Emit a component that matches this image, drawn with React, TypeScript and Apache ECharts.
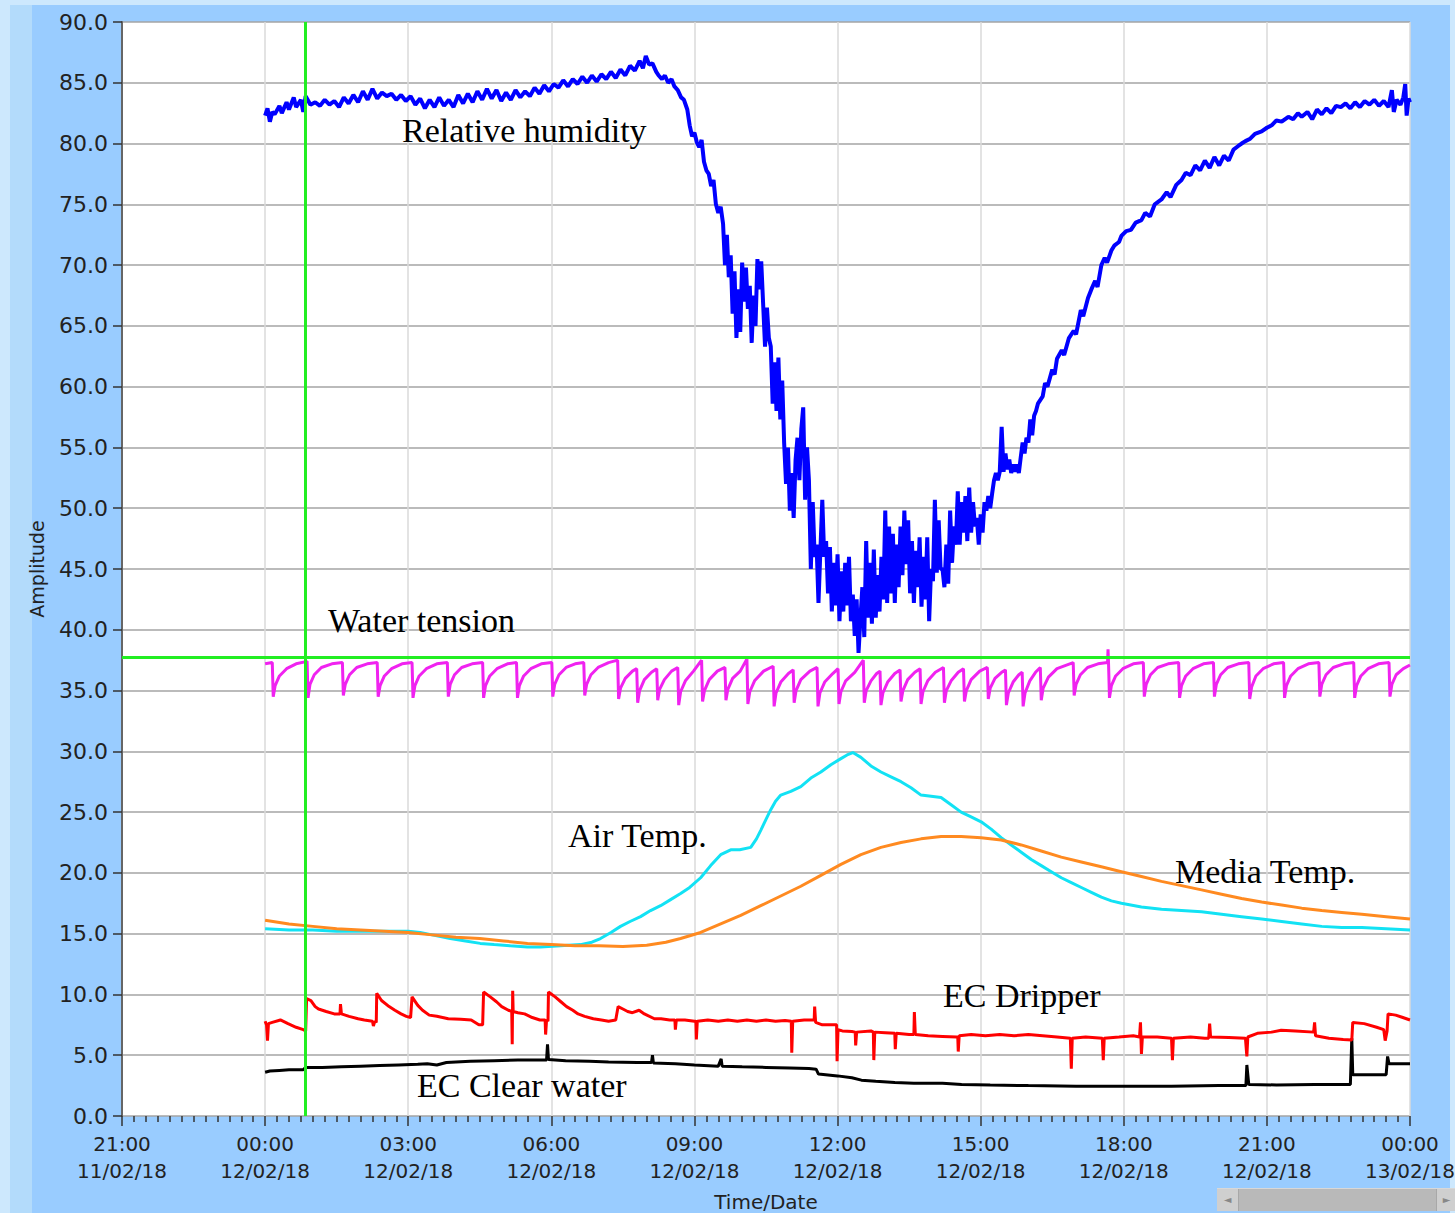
import React, { useEffect, useRef } from "react";
import * as echarts from "echarts";

// Hours since 00:00 12/02/18
const xMin = -3;
const xMax = 24;
const xStep = 3;
const yMin = 0;
const yMax = 90;
const yStep = 5;

const cursorTime = 0.84;
const cursorLevel = 37.7;

const humidity: [number, number][] = [
  [0.0,82.3],[0.05,82.9],[0.1,81.8],[0.15,82.6],[0.2,82.4],[0.3,83.1],[0.35,82.5],[0.45,83.4],[0.5,82.8],[0.6,83.8],[0.65,83.0],[0.75,83.6],[0.8,82.6],[0.85,83.9],[0.95,83.2],[1.05,83.4],[1.15,83.1],[1.25,83.6],[1.35,83.2],[1.45,83.5],[1.55,83.0],[1.65,83.8],[1.75,83.3],[1.85,84.0],[1.95,83.4],[2.05,84.3],[2.15,83.6],[2.25,84.5],[2.35,83.7],[2.45,84.2],[2.55,83.9],[2.65,84.1],[2.75,83.6],[2.85,84.0],[2.95,83.5],[3.05,83.9],[3.15,83.2],[3.25,83.7],[3.35,82.9],[3.45,83.6],[3.55,83.0],[3.65,83.8],[3.75,83.1],[3.85,83.6],[3.95,83.0],[4.05,84.0],[4.15,83.3],[4.25,84.1],[4.35,83.4],[4.45,84.3],[4.55,83.6],[4.65,84.5],[4.75,83.7],[4.85,84.4],[4.95,83.5],[5.05,84.2],[5.15,83.6],[5.25,84.4],[5.35,83.8],[5.45,84.3],[5.55,83.9],[5.65,84.6],[5.75,84.1],[5.85,84.8],[5.95,84.3],[6.05,84.9],[6.15,84.6],[6.25,85.2],[6.35,84.7],[6.45,85.3],[6.55,84.9],[6.65,85.5],[6.75,85.0],[6.85,85.6],[6.95,85.1],[7.05,85.7],[7.15,85.3],[7.25,85.9],[7.35,85.4],[7.45,86.1],[7.55,85.6],[7.65,86.4],[7.75,86.0],[7.85,86.8],[7.92,86.2],[7.98,87.2],[8.05,86.5],[8.12,86.6],[8.2,85.9],
  [8.25,85.6],[8.32,85.3],[8.38,85.6],[8.45,85.0],[8.52,85.3],[8.58,84.7],[8.65,84.4],[8.72,83.8],[8.78,83.6],[8.85,82.8],[8.9,81.5],[8.95,80.6],[9.0,80.9],[9.05,80.1],[9.1,79.7],[9.15,80.3],[9.2,78.5],[9.25,77.8],[9.3,77.5],[9.35,76.5],[9.4,77.0],[9.45,75.0],[9.5,74.3],[9.55,74.8],
  [9.6,73.4],[9.64,70.0],[9.68,72.5],[9.72,69.0],[9.76,70.8],[9.8,66.0],[9.84,69.5],[9.88,64.0],[9.92,68.0],[9.96,64.5],[10.0,70.2],[10.04,67.0],[10.08,69.8],[10.12,66.4],[10.16,68.3],[10.2,63.6],[10.24,67.5],[10.28,65.0],[10.32,70.5],[10.36,68.0],[10.4,70.3],[10.44,66.8],[10.48,63.3],[10.52,66.5],[10.56,64.0],[10.6,63.3],[10.64,58.6],[10.68,62.0],[10.72,58.0],[10.76,62.4],[10.8,57.3],[10.84,60.5],[10.88,55.4],[10.92,52.0],[10.96,55.0],[11.0,49.8],[11.04,52.9],[11.08,49.2],[11.12,54.0],[11.16,55.8],[11.2,52.3],[11.24,56.5],[11.28,58.3],[11.32,50.7],[11.36,55.0],[11.4,52.3],[11.44,45.0],[11.48,50.5],[11.52,46.0],[11.56,47.0],[11.6,42.2],[11.64,46.5],[11.68,50.7],[11.72,46.0],[11.76,47.3],[11.8,43.0],[11.84,46.8],[11.88,41.5],[11.92,45.5],[11.96,42.0],[12.0,46.2],[12.04,40.7],[12.08,44.8],[12.12,41.5],[12.16,45.5],[12.2,42.0],[12.24,46.0],[12.28,40.7],[12.32,42.9],[12.36,39.5],[12.4,42.5],[12.44,38.1],[12.48,41.0],[12.52,43.5],[12.56,39.4],[12.6,47.3],[12.64,41.0],[12.68,45.5],[12.72,40.5],[12.76,46.6],[12.8,41.0],[12.84,44.5],[12.88,41.5],[12.92,46.0],[12.96,42.5],[13.0,49.8],[13.04,42.2],[13.08,48.5],[13.12,43.0],[13.16,47.9],[13.2,42.2],[13.24,47.0],[13.28,43.5],[13.32,48.5],[13.36,44.5],[13.4,49.8],[13.44,45.4],[13.48,49.0],[13.52,43.0],[13.56,47.3],[13.6,42.2],[13.64,46.5],[13.68,43.5],[13.72,47.6],[13.76,41.9],[13.8,46.0],[13.84,42.5],[13.88,47.6],[13.92,40.7],[13.96,45.0],[14.0,44.0],[14.04,50.7],[14.08,44.7],[14.12,49.0],[14.16,45.0],[14.2,45.0],[14.24,43.5],[14.28,47.0],[14.32,43.8],[14.36,49.8],[14.4,45.5],[14.44,48.5],[14.48,47.0],[14.52,51.4],[14.56,47.0],[14.6,50.5],[14.64,48.0],[14.68,51.0],[14.72,47.3],[14.76,51.7],[14.8,48.0],[14.84,50.5],[14.88,48.5],[14.92,49.2],[14.96,47.0],[15.0,49.5],[15.04,48.0],[15.08,50.5],[15.12,49.8],[15.16,51.0],[15.2,50.0],[15.24,51.2],[15.28,52.3],[15.32,52.9],[15.36,52.3],[15.4,53.0],[15.44,56.7],[15.48,53.0],[15.52,54.5],[15.56,53.2],[15.6,54.0],[15.64,52.9],[15.68,53.6],[15.72,53.0],[15.76,53.6],[15.8,52.9],[15.84,54.2],[15.88,55.4],[15.92,54.5],[15.96,55.8],[16.0,55.4],[16.04,57.3],[16.08,56.0],[16.12,57.6],[16.16,58.0],[16.2,58.6],
  [16.3,59.2],[16.35,60.3],[16.4,60.0],[16.5,61.4],[16.55,61.0],[16.6,62.3],[16.7,63.0],[16.75,62.6],[16.85,64.0],[16.95,64.6],[17.0,64.3],[17.1,66.3],[17.15,65.8],[17.25,67.3],[17.32,68.0],[17.4,68.7],[17.45,68.2],[17.53,70.0],[17.6,70.6],[17.65,70.2],[17.74,71.2],[17.8,71.6],[17.9,71.9],[17.95,72.4],[18.05,72.8],[18.15,72.9],[18.25,73.5],[18.37,73.7],[18.45,74.3],[18.55,74.0],[18.65,75.0],[18.79,75.4],[18.9,76.0],[18.98,75.6],[19.1,76.6],[19.21,77.0],[19.3,77.6],[19.4,77.4],[19.5,78.2],[19.6,77.8],[19.7,78.6],[19.8,78.0],[19.9,78.9],[20.0,78.2],[20.1,79.0],[20.2,78.6],[20.3,79.5],[20.4,79.8],[20.47,80.0],[20.55,80.2],[20.65,80.4],[20.75,80.8],[20.89,81.0],[21.0,81.3],[21.1,81.5],[21.2,81.9],[21.31,81.8],[21.45,82.2],[21.55,82.0],[21.65,82.5],[21.73,82.2],[21.85,82.6],[21.95,82.0],[22.05,82.8],[22.15,82.4],[22.25,82.9],[22.35,82.5],[22.45,83.1],[22.55,83.0],[22.65,83.3],[22.75,82.9],[22.85,83.4],[22.95,83.0],[23.05,83.5],[23.15,83.2],[23.25,83.6],[23.35,83.1],[23.45,83.5],[23.55,83.0],[23.62,84.4],[23.66,82.6],[23.72,83.6],[23.8,83.2],[23.86,83.8],[23.9,84.9],[23.93,82.3],[23.97,83.7],[24.0,83.4]
];

const waterTension: [number, number][] = [
  [0.0,37.2],[0.15,37.3],[0.17,34.5],[0.21,35.4],[0.3,36.2],[0.45,36.8],[0.65,37.2],[0.88,37.4],
  [0.9,34.4],[0.94,35.5],[1.03,36.3],[1.18,36.9],[1.4,37.2],[1.62,37.3],
  [1.64,34.6],[1.68,35.5],[1.77,36.3],[1.92,36.9],[2.14,37.2],[2.35,37.3],
  [2.37,34.5],[2.41,35.4],[2.5,36.2],[2.65,36.8],[2.87,37.2],[3.08,37.3],
  [3.1,34.4],[3.14,35.4],[3.23,36.2],[3.38,36.8],[3.6,37.2],[3.82,37.3],
  [3.84,34.5],[3.88,35.5],[3.97,36.3],[4.12,36.9],[4.34,37.2],[4.56,37.3],
  [4.58,34.4],[4.62,35.4],[4.71,36.2],[4.86,36.8],[5.08,37.2],[5.27,37.3],
  [5.29,34.4],[5.33,35.4],[5.42,36.2],[5.57,36.8],[5.79,37.2],[6.01,37.3],
  [6.03,34.5],[6.07,35.5],[6.16,36.3],[6.31,36.9],[6.5,37.2],[6.68,37.3],
  [6.7,34.6],[6.74,35.5],[6.83,36.3],[6.98,36.9],[7.2,37.3],[7.39,37.5],
  [7.41,34.3],[7.45,35.2],[7.55,36.0],[7.7,36.6],[7.79,36.8],
  [7.81,34.0],[7.85,35.0],[7.95,35.9],[8.1,36.5],[8.21,36.8],
  [8.23,34.2],[8.27,35.1],[8.37,35.9],[8.52,36.6],[8.65,36.9],
  [8.67,33.8],[8.71,34.9],[8.81,35.8],[8.98,36.6],[9.15,37.5],
  [9.17,34.1],[9.21,35.0],[9.31,35.9],[9.48,36.6],[9.64,36.9],
  [9.66,34.2],[9.7,35.1],[9.8,36.0],[9.96,36.6],[10.1,37.6],
  [10.12,33.9],[10.16,34.9],[10.26,35.8],[10.45,36.6],[10.65,37.0],
  [10.67,33.7],[10.71,34.8],[10.81,35.7],[10.97,36.4],[11.07,36.7],
  [11.09,34.0],[11.13,35.0],[11.23,35.9],[11.42,36.6],[11.57,36.9],
  [11.59,33.7],[11.63,34.8],[11.73,35.7],[11.9,36.4],[12.01,36.8],
  [12.03,33.9],[12.07,34.9],[12.17,35.8],[12.36,36.5],[12.54,37.5],
  [12.56,34.0],[12.6,35.0],[12.7,35.8],[12.82,36.4],[12.89,36.6],
  [12.91,33.8],[12.95,34.8],[13.05,35.7],[13.2,36.4],[13.31,36.7],
  [13.33,34.1],[13.37,35.0],[13.47,35.9],[13.62,36.5],[13.73,36.8],
  [13.75,33.9],[13.79,34.9],[13.89,35.8],[14.05,36.5],[14.22,36.9],
  [14.24,34.0],[14.28,35.0],[14.38,35.8],[14.53,36.5],[14.64,36.8],
  [14.66,34.1],[14.7,35.0],[14.8,35.9],[14.98,36.6],[15.14,36.9],
  [15.16,34.3],[15.2,35.2],[15.3,36.0],[15.44,36.5],[15.52,36.7],
  [15.54,33.8],[15.58,34.8],[15.68,35.7],[15.8,36.3],[15.87,36.5],
  [15.89,33.7],[15.93,34.8],[16.03,35.8],[16.15,36.5],[16.25,36.9],
  [16.27,34.2],[16.31,35.2],[16.42,36.1],[16.6,36.8],[16.94,37.3],
  [16.96,34.6],[17.0,35.5],[17.09,36.3],[17.24,36.9],[17.46,37.2],[17.66,37.3],[17.67,38.4],[17.68,37.3],
  [17.7,34.4],[17.74,35.4],[17.83,36.2],[17.98,36.8],[18.2,37.2],[18.41,37.3],
  [18.43,34.5],[18.47,35.5],[18.56,36.3],[18.71,36.9],[18.93,37.2],[19.15,37.3],
  [19.17,34.4],[19.21,35.4],[19.3,36.2],[19.45,36.8],[19.67,37.2],[19.88,37.3],
  [19.9,34.5],[19.94,35.5],[20.03,36.3],[20.18,36.9],[20.4,37.2],[20.62,37.3],
  [20.64,34.3],[20.68,35.3],[20.77,36.2],[20.92,36.8],[21.14,37.2],[21.35,37.3],
  [21.37,34.4],[21.41,35.4],[21.5,36.2],[21.65,36.8],[21.87,37.2],[22.09,37.3],
  [22.11,34.5],[22.15,35.5],[22.24,36.3],[22.39,36.9],[22.61,37.2],[22.82,37.3],
  [22.84,34.4],[22.88,35.4],[22.97,36.2],[23.12,36.8],[23.34,37.2],[23.56,37.3],
  [23.58,34.5],[23.62,35.5],[23.71,36.3],[23.86,36.8],[24.0,37.1]
];

const airTemp: [number, number][] = [
  [0,15.4],[0.5,15.3],[1,15.3],[1.5,15.2],[2,15.2],[2.5,15.2],[3,15.2],[3.25,15.1],[3.5,14.9],[3.88,14.6],[4.2,14.4],[4.51,14.2],[4.8,14.1],[5.14,14.0],[5.5,13.9],[5.77,13.9],[6.19,14.0],[6.61,14.1],[6.85,14.3],[7.03,14.6],[7.25,15.1],[7.45,15.6],[7.65,16.0],[7.87,16.4],[8.08,16.9],[8.29,17.3],[8.5,17.8],[8.71,18.3],[8.9,18.8],[9.13,19.6],[9.34,20.6],[9.55,21.5],[9.76,21.9],[9.95,21.9],[10.18,22.1],[10.3,22.8],[10.39,23.5],[10.5,24.4],[10.6,25.2],[10.7,25.9],[10.81,26.4],[11.02,26.7],[11.23,27.1],[11.44,27.8],[11.65,28.3],[11.86,28.9],[12.07,29.4],[12.2,29.7],[12.32,29.9],[12.49,29.5],[12.7,28.8],[12.91,28.3],[13.12,27.9],[13.33,27.5],[13.54,27.0],[13.75,26.4],[13.96,26.3],[14.17,26.2],[14.38,25.6],[14.59,25.0],[14.8,24.6],[15.01,24.2],[15.22,23.6],[15.43,22.9],[15.64,22.3],[15.85,21.7],[16.06,21.1],[16.27,20.6],[16.48,20.1],[16.69,19.6],[16.9,19.2],[17.11,18.8],[17.32,18.4],[17.53,18.0],[17.74,17.7],[17.95,17.5],[18.37,17.2],[18.79,17.0],[19.21,16.9],[19.63,16.8],[20.05,16.6],[20.47,16.4],[20.89,16.2],[21.31,16.0],[21.73,15.8],[22.15,15.6],[22.57,15.5],[22.99,15.5],[23.5,15.4],[24,15.3]
];

const mediaTemp: [number, number][] = [
  [0,16.1],[0.5,15.8],[1,15.6],[1.5,15.4],[2,15.3],[2.5,15.2],[3,15.1],[3.5,14.9],[4,14.7],[4.5,14.6],[5,14.4],[5.5,14.2],[6,14.1],[6.5,14.0],[7,14.0],[7.5,13.95],[8,14.05],[8.4,14.3],[8.71,14.6],[9.13,15.1],[9.55,15.8],[9.97,16.5],[10.39,17.3],[10.81,18.1],[11.23,18.9],[11.65,19.8],[12.07,20.7],[12.49,21.5],[12.91,22.1],[13.33,22.5],[13.75,22.8],[14.17,23.0],[14.59,23.0],[15.01,22.9],[15.43,22.7],[15.85,22.3],[16.27,21.8],[16.69,21.3],[17.11,20.9],[17.53,20.5],[17.95,20.1],[18.37,19.7],[18.79,19.3],[19.21,18.95],[19.63,18.6],[20.05,18.25],[20.47,17.9],[20.89,17.6],[21.31,17.35],[21.73,17.1],[22.15,16.9],[22.57,16.75],[22.99,16.6],[23.5,16.4],[24,16.2]
];

const ecDripper: [number, number][] = [
  [0,7.8],[0.03,7.5],[0.05,6.2],[0.07,7.6],[0.15,7.7],[0.32,7.9],[0.48,7.6],[0.65,7.3],[0.8,7.1],[0.85,7.0],[0.87,9.65],[0.96,9.5],[1.05,9.0],[1.12,8.8],[1.28,8.6],[1.45,8.4],[1.57,8.4],[1.58,9.2],[1.6,8.4],[1.76,8.2],[1.95,8.0],[2.08,7.9],[2.25,7.8],[2.27,7.4],[2.3,7.8],[2.33,7.7],[2.34,10.1],[2.44,9.5],[2.6,9.0],[2.72,8.7],[2.85,8.4],[2.96,8.2],[3.05,8.1],[3.08,9.8],[3.2,9.1],[3.3,8.7],[3.44,8.3],[3.6,8.2],[3.84,8.0],[4.1,7.95],[4.32,7.9],[4.48,7.5],[4.56,7.5],[4.58,10.2],[4.72,9.8],[4.85,9.4],[4.96,9.0],[5.1,8.7],[5.17,8.6],[5.18,5.9],[5.19,10.3],[5.2,8.6],[5.3,8.5],[5.44,8.4],[5.6,8.1],[5.76,7.9],[5.87,7.9],[5.88,6.7],[5.9,7.9],[5.93,7.8],[5.94,10.2],[6.08,9.8],[6.2,9.4],[6.32,9.0],[6.45,8.7],[6.56,8.4],[6.7,8.2],[6.88,8.0],[7.05,7.9],[7.2,7.8],[7.35,7.9],[7.4,9.0],[7.5,8.8],[7.6,8.6],[7.7,8.5],[7.84,8.7],[7.95,8.4],[8.16,8.0],[8.3,8.0],[8.48,7.9],[8.59,7.9],[8.6,7.1],[8.62,7.9],[8.8,7.9],[9.0,7.8],[9.03,7.8],[9.04,6.3],[9.06,7.8],[9.28,7.9],[9.5,7.8],[9.7,7.9],[9.9,7.8],[10.1,7.9],[10.3,7.8],[10.5,7.9],[10.7,7.8],[10.9,7.85],[11.03,7.8],[11.04,5.2],[11.06,7.8],[11.3,7.9],[11.51,7.9],[11.52,9.0],[11.54,7.7],[11.68,7.5],[11.8,7.5],[11.98,7.5],[11.99,4.5],[12.01,7.1],[12.1,7.0],[12.3,6.95],[12.37,6.9],[12.38,5.8],[12.4,6.9],[12.7,7.0],[12.75,6.9],[12.76,4.6],[12.78,6.9],[13.0,6.85],[13.2,6.8],[13.21,5.5],[13.23,6.8],[13.5,6.7],[13.6,6.7],[13.61,8.55],[13.63,6.7],[13.9,6.6],[14.2,6.55],[14.5,6.5],[14.52,6.5],[14.53,5.3],[14.55,6.6],[14.8,6.7],[15.1,6.6],[15.4,6.7],[15.7,6.6],[16.0,6.7],[16.3,6.6],[16.6,6.5],[16.88,6.4],[16.9,3.9],[16.92,6.4],[17.2,6.5],[17.55,6.4],[17.57,4.6],[17.59,6.4],[17.9,6.5],[18.2,6.6],[18.33,6.5],[18.35,7.7],[18.37,5.1],[18.39,6.5],[18.7,6.5],[19.0,6.4],[19.02,4.6],[19.04,6.4],[19.4,6.5],[19.7,6.4],[19.78,6.4],[19.8,7.6],[19.82,6.5],[20.2,6.45],[20.55,6.4],[20.58,4.9],[20.6,6.5],[20.8,6.8],[21.1,6.9],[21.3,7.05],[21.6,7.0],[21.98,6.9],[22.0,7.7],[22.02,6.6],[22.3,6.4],[22.6,6.3],[22.78,6.25],[22.8,7.7],[23.04,7.6],[23.3,7.3],[23.45,7.1],[23.48,6.2],[23.52,7.0],[23.54,8.4],[23.7,8.3],[23.85,8.1],[24,7.9]
];

const ecClearWater: [number, number][] = [
  [0,3.6],[0.1,3.7],[0.3,3.75],[0.5,3.8],[0.8,3.8],[0.85,4.0],[1.2,4.0],[1.6,4.05],[2.0,4.1],[2.4,4.15],[2.8,4.2],[3.2,4.25],[3.4,4.3],[3.6,4.2],[3.8,4.4],[4.3,4.5],[4.8,4.55],[5.3,4.6],[5.9,4.6],[5.92,5.9],[5.94,4.65],[6.3,4.55],[6.8,4.5],[7.2,4.45],[7.8,4.4],[8.1,4.4],[8.12,5.0],[8.14,4.35],[8.6,4.3],[9.0,4.2],[9.5,4.1],[9.56,4.7],[9.58,4.1],[10.0,4.05],[10.5,4.0],[11.0,3.95],[11.4,3.9],[11.55,3.85],[11.6,3.45],[12.0,3.3],[12.3,3.15],[12.5,2.95],[12.8,2.85],[13.2,2.75],[13.6,2.7],[14.2,2.7],[14.6,2.6],[15.2,2.55],[16,2.5],[17,2.45],[18,2.45],[19,2.45],[20,2.5],[20.56,2.5],[20.58,4.2],[20.62,2.6],[21.2,2.55],[22,2.6],[22.75,2.6],[22.78,6.4],[22.8,3.4],[23.2,3.4],[23.5,3.4],[23.53,4.9],[23.56,4.3],[24,4.3]
];

const annotations = [
  { text: "Relative humidity", x: 402, y: 130 },
  { text: "Water tension", x: 328, y: 620 },
  { text: "Air Temp.", x: 568, y: 835 },
  { text: "Media Temp.", x: 1175, y: 871 },
  { text: "EC Dripper", x: 943, y: 995 },
  { text: "EC Clear water", x: 417, y: 1085 },
];

const W = 1455;
const H = 1213;

function lineSeries(name: string, data: [number, number][], color: string, width: number) {
  return {
    name,
    type: "line",
    data,
    showSymbol: false,
    symbol: "none",
    smooth: false,
    silent: true,
    lineStyle: { color, width },
    itemStyle: { color },
    emphasis: { disabled: true },
  };
}

function timeLabel(v: number): string {
  const h = ((v % 24) + 24) % 24;
  const hh = String(h).padStart(2, "0");
  const day = v < 0 ? "11/02/18" : v >= 24 ? "13/02/18" : "12/02/18";
  return hh + ":00\n" + day;
}

export default function App() {
  const ref = useRef<HTMLDivElement>(null);
  useEffect(() => {
    if (!ref.current) return;
    const chart = echarts.init(ref.current, undefined, { renderer: "svg" });
    const labelFont = "DejaVu Sans";
    chart.setOption({
      animation: false,
      backgroundColor: "transparent",
      grid: {
        left: 122,
        right: W - 1410,
        top: 22,
        bottom: H - 1116,
        show: true,
        backgroundColor: "#ffffff",
        borderWidth: 0,
        containLabel: false,
        outerBoundsMode: "none",
      },
      xAxis: {
        type: "value",
        min: xMin,
        max: xMax,
        interval: xStep,
        name: "Time/Date",
        nameLocation: "middle",
        nameGap: 76,
        nameTextStyle: { fontFamily: labelFont, fontSize: 20, color: "#222" },
        axisLine: { show: false, onZero: false },
        axisTick: { show: true, length: 10, lineStyle: { color: "#333", width: 1.5 } },
        minorTick: { show: true, splitNumber: 12, length: 6, lineStyle: { color: "#333", width: 1.5 } },
        splitLine: { show: true, lineStyle: { color: "#dadada", width: 1.5 } },
        axisLabel: {
          formatter: timeLabel,
          fontFamily: labelFont,
          fontSize: 20,
          lineHeight: 27,
          color: "#222",
          margin: 14,
          showMinLabel: true,
          showMaxLabel: true,
        },
      },
      yAxis: {
        type: "value",
        min: yMin,
        max: yMax,
        interval: yStep,
        name: "Amplitude",
        nameLocation: "middle",
        nameGap: 76,
        nameRotate: 90,
        nameTextStyle: { fontFamily: labelFont, fontSize: 19, color: "#222" },
        axisLine: { show: true, onZero: false, lineStyle: { color: "#666", width: 2 } },
        axisTick: { show: true, length: 9, lineStyle: { color: "#333", width: 1.5 } },
        splitLine: { show: true, lineStyle: { color: "#a4a4a4", width: 1.5 } },
        axisLabel: {
          formatter: (v: number) => v.toFixed(1),
          fontFamily: labelFont,
          fontSize: 22,
          color: "#222",
          margin: 14,
        },
      },
      series: [
        lineSeries("Air Temp.", airTemp, "#12e2f4", 3),
        lineSeries("Media Temp.", mediaTemp, "#ff8a20", 3),
        lineSeries("EC Clear water", ecClearWater, "#000000", 3),
        lineSeries("EC Dripper", ecDripper, "#ff0000", 3),
        lineSeries("Water tension", waterTension, "#f022f0", 3),
        lineSeries("Relative humidity", humidity, "#0000ff", 4),
        {
          name: "cursor",
          type: "line",
          data: [],
          z: 10,
          silent: true,
          markLine: {
            silent: true,
            symbol: ["none", "none"],
            label: { show: false },
            lineStyle: { color: "#22ee22", width: 3, type: "solid" },
            emphasis: { disabled: true },
            data: [{ xAxis: cursorTime }, { yAxis: cursorLevel }],
          },
        },
      ],
      graphic: annotations.map((a) => ({
        type: "text",
        x: a.x,
        y: a.y,
        z: 20,
        silent: true,
        style: {
          text: a.text,
          font: '34px "Liberation Serif"',
          fill: "#000",
          verticalAlign: "middle",
          textVerticalAlign: "middle",
        },
      })),
    });
    return () => chart.dispose();
  }, []);

  return (
    <div style={{ position: "absolute", left: 0, top: 0, width: W, height: H, background: "#cde8fd", overflow: "hidden" }}>
      <div style={{ position: "absolute", left: 10, top: 5, width: 22, height: H - 5, background: "#b3dbfb" }} />
      <div style={{ position: "absolute", left: 32, top: 5, width: 1418, height: H - 5, background: "#99ccff" }} />
      <div style={{ position: "absolute", left: 1217, top: 1188, width: 238, height: 22, background: "#b9b9b9", borderTop: "1px solid #d8d8d8" }}>
        <div style={{ position: "absolute", left: 0, top: 0, width: 21, height: 22, background: "#cfcfcf", borderRight: "1px solid #a8a8a8", color: "#888", fontSize: 10, lineHeight: "22px", textAlign: "center", fontFamily: "DejaVu Sans" }}>◄</div>
        <div style={{ position: "absolute", left: 219, top: 0, width: 19, height: 22, background: "#cfcfcf", borderLeft: "1px solid #a8a8a8", color: "#888", fontSize: 10, lineHeight: "22px", textAlign: "center", fontFamily: "DejaVu Sans" }}>►</div>
      </div>
      <div ref={ref} style={{ position: "absolute", left: 0, top: 0, width: W, height: H }} />
    </div>
  );
}
